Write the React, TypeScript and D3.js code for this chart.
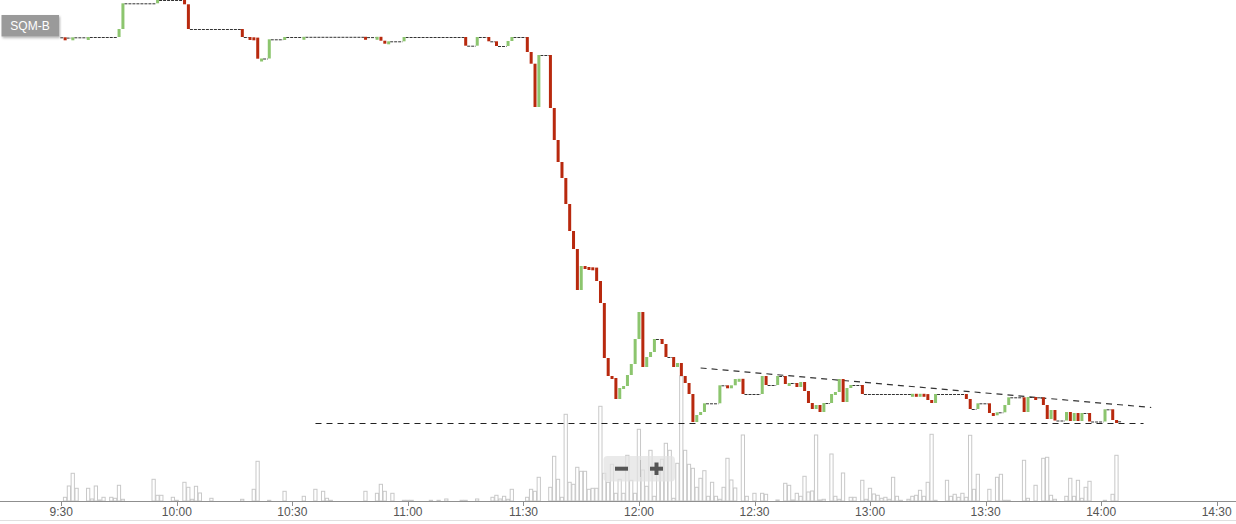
import React from "react";
import * as d3 from "d3";

const W = 1236;
const H = 524;

const symbolName = "SQM-B";
const tickLabels = ["9:30", "10:00", "10:30", "11:00", "11:30", "12:00", "12:30", "13:00", "13:30", "14:00", "14:30"];
const sessionStart = "9:30";
const sessionEnd = "14:30";
const openingPrice = 32627;

// minute index (from 9:30) of each traded minute, and its closing price
const priceMinutes = [
  0, 2, 6, 14, 15, 24, 31, 32, 46, 48,
  49, 50, 51, 53, 57, 62, 78, 81, 82, 83,
  84, 88, 104, 107, 110, 112, 115, 116, 120, 121,
  122, 123, 126, 127, 128, 129, 130, 131, 132, 133,
  134, 135, 136, 137, 138, 139, 140, 141, 142, 143,
  144, 145, 146, 147, 148, 149, 150, 151, 152, 153,
  155, 156, 158, 159, 160, 161, 162, 163, 164, 165,
  166, 170, 172, 173, 174, 175, 176, 181, 182, 185,
  187, 188, 190, 191, 192, 193, 194, 195, 196, 197,
  199, 200, 201, 202, 203, 204, 207, 220, 221, 222,
  223, 224, 225, 226, 234, 235, 237, 240, 241, 242,
  244, 245, 249, 250, 252, 254, 255, 256, 257, 260,
  261, 262, 263, 264, 266, 270, 272, 273,
];
const priceCloses = [
  32624, 32627, 32630, 32710, 32967, 33000, 32957, 32710, 32630, 32627,
  32624, 32413, 32415, 32607, 32630, 32632, 32629, 32632, 32593, 32565,
  32587, 32630, 32543, 32630, 32587, 32540, 32590, 32630, 32480, 32363,
  31930, 32450, 31920, 31600, 31380, 31220, 30960, 30690, 30510, 30100,
  30340, 30330, 30327, 30324, 30190, 29970, 29420, 29240, 29220, 29010,
  29120, 29140, 29250, 29360, 29610, 29880, 29330, 29430, 29480, 29610,
  29560, 29430, 29330, 29370, 29240, 29170, 29060, 28780, 28850, 28880,
  28967, 29147, 29144, 29147, 29210, 29212, 29060, 29240, 29150, 29240,
  29160, 29170, 29130, 29180, 29090, 28970, 28910, 28950, 28880, 28970,
  29060, 29080, 29210, 28980, 29120, 29150, 29060, 29062, 29059, 29062,
  29059, 29000, 28970, 29060, 29010, 28910, 28967, 28870, 28865, 28877,
  28950, 29027, 28880, 29030, 29027, 28950, 28810, 28900, 28795, 28880,
  28790, 28870, 28790, 28870, 28785, 28907, 28800, 28787,
];

const volumeMinutes = [
  0, 1, 2, 3, 6, 7, 8, 9, 10, 12,
  13, 14, 15, 23, 24, 25, 28, 29, 31, 32,
  33, 34, 35, 38, 46, 49, 50, 53, 57, 62,
  65, 67, 68, 69, 78, 81, 82, 83, 85, 88,
  89, 90, 95, 97, 99, 103, 104, 107, 111, 112,
  113, 114, 115, 116, 120, 121, 122, 123, 126, 127,
  128, 129, 130, 131, 132, 133, 134, 135, 136, 137,
  138, 139, 140, 141, 142, 143, 144, 145, 146, 147,
  148, 149, 150, 151, 152, 153, 154, 155, 156, 157,
  158, 159, 160, 161, 162, 163, 164, 165, 166, 167,
  168, 169, 170, 171, 172, 173, 174, 176, 177, 179,
  181, 182, 185, 187, 188, 189, 190, 191, 192, 193,
  194, 195, 196, 197, 199, 200, 201, 202, 204, 205,
  207, 208, 209, 210, 211, 212, 213, 214, 215, 216,
  217, 219, 220, 221, 222, 223, 224, 225, 226, 229,
  230, 231, 232, 233, 234, 235, 236, 237, 240, 242,
  243, 244, 245, 249, 250, 252, 254, 255, 256, 257,
  260, 261, 262, 263, 264, 265, 266, 270, 272, 273,
];
const volumeValues = [
  3700, 15000, 27700, 12700, 12700, 2000, 15000, 1000, 3700, 3700,
  2700, 15700, 1700, 21700, 5700, 5700, 3700, 700, 18700, 13700,
  1700, 14700, 8000, 2700, 1700, 11700, 39700, 700, 9700, 4700,
  11700, 9700, 2700, 700, 9700, 7700, 16700, 9700, 7700, 700,
  700, 700, 700, 700, 2000, 700, 700, 2000, 3700, 5700,
  2000, 4700, 1700, 11700, 3700, 11700, 9700, 23700, 13700, 44700,
  21700, 3700, 86700, 18700, 16700, 33700, 29700, 29700, 11700, 12700,
  12700, 94700, 27700, 18700, 36700, 7700, 21700, 7700, 45700, 20700,
  7700, 71700, 31000, 14700, 50700, 4700, 32700, 41700, 57700, 50700,
  2700, 37700, 125000, 50700, 36700, 32700, 13700, 22700, 30300, 4700,
  18700, 4700, 1700, 13700, 42700, 21000, 13000, 66000, 4700, 7700,
  7700, 6700, 1000, 17700, 15700, 1000, 7700, 4700, 24700, 9000,
  10000, 66000, 1000, 1700, 47000, 4700, 1700, 28000, 3700, 3700,
  20700, 1700, 12700, 7000, 5700, 2700, 3700, 1700, 23700, 4700,
  700, 1700, 4700, 5700, 10700, 4700, 18700, 66700, 700, 20700,
  4700, 6700, 3700, 7700, 3700, 65700, 11700, 26700, 11700, 23700,
  26700, 700, 700, 40700, 2700, 15700, 42700, 43700, 5700, 1700,
  4700, 22700, 4700, 20700, 2700, 13700, 19700, 700, 6700, 45700,
];

// drawn trend lines: [start time, end time], [start price, end price]
const supportTimes = ["10:36", "14:11"];
const supportPrices = [28765, 28765];
const resistanceTimes = ["12:16", "14:13"];
const resistancePrices = [29320, 28925];

const RED = "#b8290e";
const GREEN = "#8cc56e";
const FONT = "'Liberation Sans', Arial, Helvetica, sans-serif";

function parseTime(s: string): Date {
  const [h, m] = s.split(":").map(Number);
  return new Date(2018, 0, 1, h, m);
}
function atMinute(m: number): Date {
  const b = parseTime(sessionStart);
  return new Date(b.getTime() + m * 60000);
}

export default function App() {
  const x = d3.scaleTime().domain([parseTime(sessionStart), parseTime(sessionEnd)]).range([61.3, 1216.7]);
  const y = d3.scaleLinear().domain([28000, 33000]).range([500, 0]);
  const vy = d3.scaleLinear().domain([0, 100000]).range([501, 401]);
  const minuteW = x(atMinute(1)) - x(atMinute(0));
  const center = (m: number) => x(atMinute(m + 1));
  const barW = 3;

  const bars = priceMinutes.map((m, i) => {
    const open = i === 0 ? openingPrice : priceCloses[i - 1];
    const close = priceCloses[i];
    return { m, open, close };
  });

  const gaps: { x1: number; x2: number; yv: number }[] = [];
  bars.forEach((b, i) => {
    const right = center(b.m) - barW / 2;
    if (i === 0) {
      gaps.push({ x1: x(parseTime(sessionStart)) - 1, x2: right, yv: y(openingPrice) });
    } else {
      const p = bars[i - 1];
      if (b.m - p.m > 1) {
        gaps.push({ x1: center(p.m) + barW / 2, x2: right, yv: y(p.close) });
      }
    }
  });
  const last = bars[bars.length - 1];
  gaps.push({ x1: center(last.m) + barW / 2, x2: center(last.m + 1) + barW / 2, yv: y(last.close) });

  const fmt = d3.timeFormat("%-H:%M");
  const ticks = tickLabels.map(parseTime);

  const axisY = 501.5;

  return (
    <svg width={W} height={H} style={{ position: "absolute", left: 0, top: 0, display: "block", background: "#fff" }}>
      <defs>
        <filter id="sh" x="-20%" y="-30%" width="150%" height="180%">
          <feDropShadow dx="1" dy="1.5" stdDeviation="1.2" floodColor="#000" floodOpacity="0.3" />
        </filter>
        <clipPath id="plot">
          <rect x={0} y={0} width={W} height={501} />
        </clipPath>
      </defs>

      {/* volume */}
      <g>
        {volumeMinutes.map((m, i) => {
          const c = center(m) - 0.3;
          const top = vy(volumeValues[i]);
          return (
            <rect key={"v" + i} x={c - minuteW / 2 + 0.5} y={top} width={minuteW - 0.6} height={Math.max(0.5, axisY - 0.5 - top)}
              fill="none" stroke="#c8c8c8" strokeWidth={1} />
          );
        })}
      </g>

      {/* axis */}
      <line x1={0} x2={W} y1={axisY} y2={axisY} stroke="#8f8f8f" strokeWidth={1} />
      {ticks.map((t, i) => (
        <g key={"t" + i}>
          <line x1={Math.round(x(t)) + 0.5} x2={Math.round(x(t)) + 0.5} y1={axisY} y2={axisY + 4.5} stroke="#8f8f8f" />
          <text x={x(t)} y={516} textAnchor="middle" fontFamily={FONT} fontSize={12} fill="#555">{fmt(t)}</text>
        </g>
      ))}
      <line x1={0} x2={W} y1={520.5} y2={520.5} stroke="#e0e0e0" strokeWidth={1} />

      {/* trend lines */}
      <line x1={x(parseTime(supportTimes[0]))} x2={x(parseTime(supportTimes[1]))}
        y1={y(supportPrices[0])} y2={y(supportPrices[1])} stroke="#222" strokeWidth={1.2} strokeDasharray="6,5" />
      <line x1={x(parseTime(resistanceTimes[0]))} x2={x(parseTime(resistanceTimes[1]))}
        y1={y(resistancePrices[0])} y2={y(resistancePrices[1])} stroke="#333" strokeWidth={1.2} strokeDasharray="6,5" />

      {/* price */}
      <g clipPath="url(#plot)">
        {gaps.map((g, i) => (
          <line key={"g" + i} x1={g.x1} x2={g.x2} y1={g.yv + 0.5} y2={g.yv + 0.5} stroke="#333" strokeWidth={1} strokeDasharray="3,1" />
        ))}
        {bars.map((b, i) => {
          const yo = y(b.open);
          const yc = y(b.close);
          const top = Math.min(yo, yc);
          const h = Math.max(3, Math.abs(yo - yc));
          return (
            <rect key={"b" + i} x={center(b.m) - barW / 2} y={top} width={barW} height={h}
              fill={b.close >= b.open ? GREEN : RED} />
          );
        })}
      </g>

      {/* symbol label */}
      <g>
        <rect x={1.5} y={15} width={57.5} height={21.5} fill="#9a9a9a" filter="url(#sh)" />
        <text x={30} y={30} textAnchor="middle" fontFamily={FONT} fontSize={12} fill="#fff">{symbolName}</text>
      </g>

      {/* zoom control */}
      <g>
        <rect x={603.5} y={456} width={71.5} height={25.5} rx={4} fill="#e2e2e2" fillOpacity={0.72} />
        <rect x={615} y={466.7} width={13} height={4} fill="#555" />
        <line x1={640.5} x2={640.5} y1={460} y2={477} stroke="#bdbdbd" strokeWidth={1} />
        <rect x={650} y={466.7} width={13} height={4} fill="#555" />
        <rect x={654.5} y={462.5} width={4} height={12.5} fill="#555" />
      </g>
    </svg>
  );
}
